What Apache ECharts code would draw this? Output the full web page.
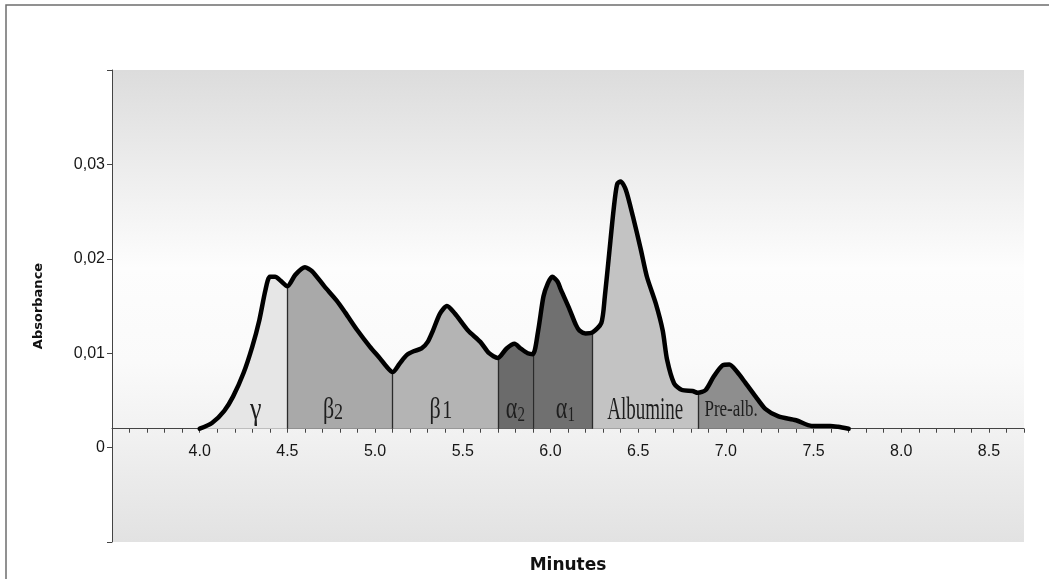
<!DOCTYPE html>
<html>
<head>
<meta charset="utf-8">
<script src="https://cdn.jsdelivr.net/npm/echarts@6/dist/echarts.min.js"></script>
<style>
html,body{margin:0;padding:0;background:#fff;}
#c{width:1049px;height:579px;}
</style>
</head>
<body>
<div id="c"></div>
<script>
// ---- data ----
const minutes = [4.00,4.07,4.14,4.19,4.25,4.30,4.34,4.375,4.40,4.43,4.46,4.50,4.545,4.60,4.64,4.71,4.78,4.83,4.90,4.97,5.03,5.06,5.10,5.14,5.18,5.22,5.265,5.30,5.33,5.37,5.41,5.455,5.53,5.60,5.65,5.70,5.75,5.795,5.83,5.87,5.90,5.93,5.96,5.985,6.01,6.04,6.06,6.11,6.145,6.165,6.20,6.24,6.29,6.31,6.335,6.36,6.38,6.40,6.43,6.47,6.515,6.55,6.60,6.64,6.665,6.705,6.75,6.81,6.84,6.885,6.93,6.98,7.02,7.065,7.11,7.17,7.225,7.30,7.40,7.49,7.595,7.64,7.70];
const absorbance = [0.0020,0.0026,0.0039,0.0054,0.0079,0.0107,0.0135,0.0167,0.0181,0.0181,0.0177,0.0171,0.0183,0.0191,0.0187,0.0171,0.0156,0.0143,0.0124,0.0107,0.0094,0.0087,0.0080,0.0089,0.0098,0.0102,0.0105,0.0112,0.0124,0.0142,0.0150,0.0142,0.0124,0.0112,0.0100,0.0095,0.0105,0.0110,0.0105,0.0100,0.0099,0.0124,0.0160,0.0174,0.0181,0.0176,0.0167,0.0146,0.0130,0.0124,0.0121,0.0122,0.0132,0.0160,0.0206,0.0252,0.0279,0.0282,0.0273,0.0245,0.0210,0.0181,0.0153,0.0124,0.0093,0.0068,0.0061,0.0060,0.0058,0.0061,0.0075,0.0087,0.0088,0.0080,0.0069,0.0054,0.0041,0.0033,0.0029,0.0023,0.0023,0.0022,0.0020];
const bandEdges = [4.0,4.5,5.1,5.7,5.9,6.24,6.84,7.7];
const bandNames = ['γ','β2','β1','α2','α1','Albumine','Pre-alb.'];
const baseline = 0.002;
const xTickLabels = ['4.0','4.5','5.0','5.5','6.0','6.5','7.0','7.5','8.0','8.5'];
const yTickLabels = ['0','0,01','0,02','0,03'];

// ---- styling / layout ----
const Y_MIN = -0.01, Y_MAX = 0.04, X_MIN = 3.5, X_MAX = 8.7;
const GRID = {left:112, right:25, top:70, bottom:37};
const H = 579 - GRID.top - GRID.bottom;
const xAxisOffset = -((baseline - Y_MIN) / (Y_MAX - Y_MIN)) * H;
const bandColors = ['#e6e6e6','#a9a9a9','#b4b4b4','#6b6b6b','#707070','#c3c3c3','#8e8e8e'];
const labelAnchorX = [4.32,4.76,5.375,5.80,6.085,6.54,7.03];
const labelAnchorY = 0.0042;
const labelCfg = [
  {main:26, sub:0, sy:1.25},
  {main:22, sub:18, sy:1.3},
  {main:22, sub:20, sy:1.3, gap:true},
  {main:22, sub:15, sy:1.4},
  {main:22, sub:15, sy:1.4},
  {main:19, sub:0, sy:1.7},
  {main:17, sub:0, sy:1.35}
];
const SERIF = '"Liberation Serif", "Times New Roman", serif';
const SANS = '"Liberation Sans", Arial, sans-serif';

const points = minutes.map((m,i)=>[m, absorbance[i]]);
function valueAt(x){ const i = minutes.findIndex(m=>Math.abs(m-x)<1e-9); return absorbance[i]; }

const series = [];
for (let b=0;b<bandNames.length;b++){
  const lo = bandEdges[b], hi = bandEdges[b+1];
  series.push({
    type:'line',
    data: points.filter(p=>p[0]>=lo-1e-9 && p[0]<=hi+1e-9),
    smooth:0.25, symbol:'none', silent:true, z:2,
    lineStyle:{width:0, color:bandColors[b]},
    areaStyle:{color:bandColors[b], opacity:1, origin:baseline}
  });
}
series.push({
  type:'line', data:points, smooth:0.25, symbol:'none', silent:true, z:5,
  lineStyle:{width:4.5, color:'#000', cap:'round', join:'round'},
  markLine:{
    silent:true, symbol:'none', animation:false,
    label:{show:false},
    lineStyle:{color:'#2a2a2a', width:1.3, type:'solid'},
    data: bandEdges.slice(1,-1).map(e=>[{coord:[e, baseline]},{coord:[e, valueAt(e)]}])
  }
});
series.push({
  type:'custom', silent:true, z:6, clip:false,
  data: bandNames.map((n,i)=>[labelAnchorX[i], labelAnchorY, i]),
  renderItem:function(params, api){
    const idx = api.value(2);
    const p = api.coord([api.value(0), api.value(1)]);
    const name = bandNames[idx];
    const cfg = labelCfg[idx];
    let text;
    const rich = {
      m:{fontSize:cfg.main, fontFamily:SERIF, fill:'#1e1e1e', verticalAlign:'bottom', lineHeight:cfg.main*1.15},
      s:{fontSize:cfg.sub||10, fontFamily:SERIF, fill:'#1e1e1e', verticalAlign:'bottom', lineHeight:cfg.main*1.15},
      g:{fontSize:6, fontFamily:SERIF, lineHeight:cfg.main*1.15}
    };
    if (cfg.sub){ text = '{m|'+name[0]+'}'+(cfg.gap?'{g| }':'')+'{s|'+name.slice(1)+'}'; }
    else { text = '{m|'+name+'}'; }
    return {
      type:'text', x:p[0], y:p[1], scaleX:1, scaleY:cfg.sy,
      style:{text:text, rich:rich, align:'center', verticalAlign:'middle', fill:'#1e1e1e', fontFamily:SERIF, fontSize:cfg.main}
    };
  }
});

const chart = echarts.init(document.getElementById('c'));
chart.setOption({
  animation:false,
  backgroundColor:'#ffffff',
  graphic:[{type:'rect', shape:{x:6, y:5, width:1200, height:1000}, style:{fill:'none', stroke:'#6e6e6e', lineWidth:1.5}, silent:true, z:-10}],
  grid:{left:GRID.left, right:GRID.right, top:GRID.top, bottom:GRID.bottom, show:true, borderWidth:0, containLabel:false, outerBoundsMode:'none',
    backgroundColor:{type:'linear', x:0, y:0, x2:0, y2:1, colorStops:[
      {offset:0, color:'#dcdcdc'},{offset:0.2, color:'#ececec'},{offset:0.42, color:'#fdfdfd'},{offset:0.62, color:'#fafafa'},
      {offset:0.76, color:'#f2f2f2'},{offset:0.86, color:'#ebebeb'},{offset:1, color:'#e2e2e2'}]}},
  xAxis:{
    type:'value', min:X_MIN, max:X_MAX, interval:0.1, position:'bottom', offset:xAxisOffset,
    name:'Minutes', nameLocation:'middle', nameGap:128,
    nameTextStyle:{fontFamily:'"DejaVu Sans", sans-serif', fontWeight:'bold', fontSize:17, color:'#111'},
    axisLine:{show:true, onZero:false, lineStyle:{color:'#444', width:1}},
    axisTick:{show:true, length:4, lineStyle:{color:'#444'}},
    axisLabel:{margin:15, fontFamily:SANS, fontSize:16, color:'#161616', showMinLabel:true, showMaxLabel:true,
      formatter:function(v){ const s=v.toFixed(1); return xTickLabels.indexOf(s)>=0 && Math.abs(v-parseFloat(s))<1e-6 ? s : ''; }},
    splitLine:{show:false}
  },
  yAxis:{
    type:'value', min:Y_MIN, max:Y_MAX, interval:0.01,
    name:'Absorbance', nameLocation:'middle', nameGap:67, nameRotate:90,
    nameTextStyle:{fontFamily:'"DejaVu Sans", sans-serif', fontWeight:'bold', fontSize:13, color:'#111'},
    axisLine:{show:true, onZero:false, lineStyle:{color:'#444', width:1}},
    axisTick:{show:true, length:5, lineStyle:{color:'#444'}},
    axisLabel:{margin:7, fontFamily:SANS, fontSize:16, color:'#161616',
      formatter:function(v){ const i=Math.round(v/0.01); return (Math.abs(v-i*0.01)<1e-9 && i>=0 && i<yTickLabels.length)? yTickLabels[i] : ''; }},
    splitLine:{show:false}
  },
  series:series
});
</script>
</body>
</html>
